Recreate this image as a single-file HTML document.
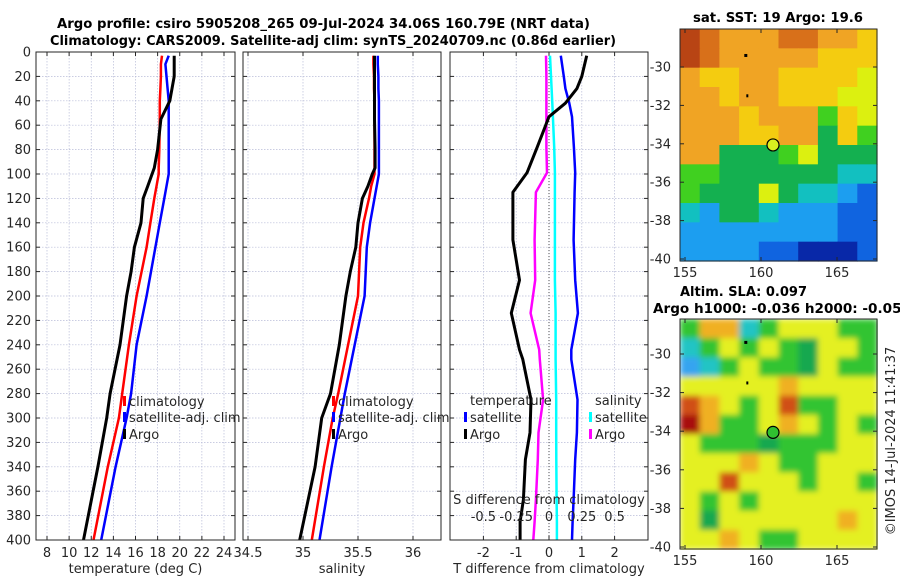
<!DOCTYPE html>
<html><head><meta charset="utf-8"><style>
html,body{margin:0;padding:0;background:#fff;}
svg{display:block;font-family:"DejaVu Sans","Liberation Sans",sans-serif;}
</style></head><body>
<svg id="fig" width="900" height="580" viewBox="0 0 900 580" xmlns="http://www.w3.org/2000/svg">
<text x="57" y="28" font-size="13" font-weight="bold" textLength="533" lengthAdjust="spacingAndGlyphs">Argo profile: csiro 5905208_265 09-Jul-2024 34.06S 160.79E (NRT data)</text>
<text x="50" y="45" font-size="13" font-weight="bold" textLength="566" lengthAdjust="spacingAndGlyphs">Climatology: CARS2009. Satellite-adj clim: synTS_20240709.nc (0.86d earlier)</text>
<text x="693" y="22" font-size="13" font-weight="bold" textLength="170" lengthAdjust="spacingAndGlyphs">sat. SST: 19 Argo: 19.6</text>
<text x="680" y="296" font-size="13" font-weight="bold" textLength="127" lengthAdjust="spacingAndGlyphs">Altim. SLA: 0.097</text>
<text x="653" y="313" font-size="13" font-weight="bold" textLength="258" lengthAdjust="spacingAndGlyphs">Argo h1000: -0.036 h2000: -0.054</text>
<text transform="translate(895,441) rotate(-90)" text-anchor="middle" font-size="13" fill="#262626">©IMOS 14-Jul-2024 11:41:37</text>
<g id="layer"></g>
</svg>
<script>
// depth levels (m)
const depthT = [3,10,20,30,40,55,80,95,100,110,120,140,160,180,200,240,280,300,340,400];
const tempClim = [18.4,18.3,18.3,18.25,18.2,18.2,18.15,18.1,18.1,17.9,17.7,17.35,17.0,16.55,16.1,15.4,14.8,14.5,13.5,12.2];
const tempSat  = [19.0,18.7,18.8,18.9,19.0,19.0,19.0,19.0,19.0,18.8,18.6,18.2,17.8,17.4,17.0,16.1,15.6,15.2,14.2,12.9];
const tempArgo = [19.5,19.5,19.5,19.3,19.1,18.3,18.0,17.7,17.5,17.1,16.7,16.5,15.9,15.6,15.2,14.6,13.7,13.4,12.6,11.3];
const salClim = [35.64,35.64,35.645,35.645,35.65,35.65,35.65,35.65,35.65,35.62,35.6,35.55,35.52,35.51,35.5,35.41,35.32,35.27,35.19,35.08];
const salSat  = [35.68,35.68,35.685,35.685,35.69,35.69,35.69,35.69,35.69,35.67,35.65,35.61,35.58,35.57,35.56,35.47,35.38,35.34,35.26,35.15];
const salArgo = [35.65,35.65,35.65,35.65,35.65,35.65,35.655,35.655,35.63,35.59,35.54,35.5,35.48,35.43,35.39,35.33,35.25,35.17,35.11,34.97];
const depthD = [3,20,30,42,53,78,99,115,154,187,214,244,252,285,312,334,367,385,400];
const dTArgo = [1.15,1.0,0.85,0.5,0.0,-0.36,-0.67,-1.1,-1.1,-0.9,-1.15,-0.9,-0.8,-0.55,-0.58,-0.72,-0.78,-0.88,-0.88];
const dTSat  = [0.36,0.45,0.5,0.62,0.7,0.76,0.8,0.78,0.75,0.8,0.88,0.68,0.68,0.87,0.85,0.8,0.75,0.72,0.7];
const dSArgo = [-0.023,-0.02,-0.02,-0.02,-0.02,-0.02,-0.015,-0.1,-0.11,-0.105,-0.14,-0.075,-0.07,-0.045,-0.08,-0.085,-0.1,-0.11,-0.12];
const dSSat  = [0.008,0.015,0.02,0.025,0.03,0.04,0.045,0.045,0.045,0.045,0.05,0.05,0.05,0.055,0.055,0.056,0.058,0.06,0.06];
const yTicks = [0,20,40,60,80,100,120,140,160,180,200,220,240,260,280,300,320,340,360,380,400];
const tTicks = [8,10,12,14,16,18,20,22,24];
const sTicks = [34.5,35,35.5,36];
const dTicks = [-2,-1,0,1,2];
const dsTicks = [-0.5,-0.25,0,0.25,0.5];
const dsLabels = ['-0.5','-0.25','0','0.25','0.5'];
const sstRows = ["RDOOODDOOY","RDOOOOOYYY","OYYOOYYYYL","OOYOOYYYLL","OOOYOOOGYL","OOOYYOOgYG","OOgggGLggg","GGggggggCC","GgggLgCCBb","CBggCBBBbb","BBBBBBBBbb","BBBBbbNNNb"];
const slaRows = ["GOOCGYYYGG","CGYGYGgYYG","BCGYGGgYGG","YYYYYOYYYY","DOYGYDGGYY","ROGGYOYGYG","YGGGgGGGYY","YYYOYGGYYY","YYDYYYGYYG","YGYGYYYYYY","YgYYYYYYOY","YYOYGGYYYY"];
const argoLon = 160.79, argoLat = -34.06;
const mapXTicks = [155,160,165];
const mapYTicks = [-30,-32,-34,-36,-38,-40];

const NS='http://www.w3.org/2000/svg';
const L=document.getElementById('layer');
function mk(t,a,p){const e=document.createElementNS(NS,t);for(const k in a)e.setAttribute(k,a[k]);(p||L).appendChild(e);return e;}
const Y0=52,Y1=540;
const yS=d=>Y0+(d)*(Y1-Y0)/400;
const panels=[
 {name:'temperature-panel',x0:36,x1:235,sc:v=>47+(v-8)*11.0625,ticks:tTicks,labels:tTicks.map(String),xlabel:'temperature (deg C)'},
 {name:'salinity-panel',x0:243,x1:441,sc:v=>303+(v-35)*110,ticks:sTicks,labels:['34.5','35','35.5','36'],xlabel:'salinity'},
 {name:'difference-panel',x0:450,x1:648,sc:v=>549+v*32.8,ticks:dTicks,labels:dTicks.map(String),xlabel:'T difference from climatology'}
];
panels.forEach((p,i)=>{
 const g=mk('g',{});
 
 
 yTicks.forEach(d=>{const y=yS(d);
  const ln=mk('line',{x1:p.x0,x2:p.x1,y1:y,y2:y,stroke:'#b8bcd8','stroke-width':0.7,'stroke-dasharray':'1.5,1.5'},g);
  
  mk('line',{x1:p.x0,x2:p.x0+4,y1:y,y2:y,stroke:'#262626'},g);
  mk('line',{x1:p.x1-4,x2:p.x1,y1:y,y2:y,stroke:'#262626'},g);
  if(i===0){const t=mk('text',{x:31,y:y+4.5,'text-anchor':'end','font-size':13,fill:'#262626'},g);t.textContent=d;
   }
 });
 p.ticks.forEach((v,k)=>{const x=p.sc(v);
  const ln=mk('line',{x1:x,x2:x,y1:Y0,y2:Y1,stroke:'#b8bcd8','stroke-width':0.7,'stroke-dasharray':'1.5,1.5'},g);
  
  mk('line',{x1:x,x2:x,y1:Y1-4,y2:Y1,stroke:'#262626'},g);
  mk('line',{x1:x,x2:x,y1:Y0,y2:Y0+4,stroke:'#262626'},g);
  const t=mk('text',{x:x,y:557,'text-anchor':'middle','font-size':13,fill:'#262626'},g);t.textContent=p.labels[k];
  
 });
 const xl=mk('text',{x:(p.x0+p.x1)/2,y:573,'text-anchor':'middle','font-size':13,fill:'#262626'},g);xl.textContent=p.xlabel;
 
 p.g=g;
});
function line(p,depths,vals,col,w,name){
 const pts=depths.map((d,k)=>p.sc(vals[k]).toFixed(1)+','+yS(d).toFixed(1)).join(' ');
 const e=mk('polyline',{points:pts,fill:'none',stroke:col,'stroke-width':w,'stroke-linejoin':'round'},p.g);
 
}
const P1=panels[0],P2=panels[1],P3=panels[2];
line(P1,depthT,tempClim,'#ff0000',2.5,'temp-climatology-line');
line(P1,depthT,tempSat,'#0000ff',2.5,'temp-satellite-line');
line(P1,depthT,tempArgo,'#000000',3,'temp-argo-line');
line(P2,depthT,salClim,'#ff0000',2.5,'sal-climatology-line');
line(P2,depthT,salSat,'#0000ff',2.5,'sal-satellite-line');
line(P2,depthT,salArgo,'#000000',3,'sal-argo-line');
const z=mk('line',{x1:P3.sc(0),x2:P3.sc(0),y1:Y0,y2:Y1,stroke:'#333','stroke-width':0.8,'stroke-dasharray':'1,2'},P3.g);

const P3s={g:P3.g,sc:v=>P3.sc(v*4)};
line(P3,depthD,dTSat,'#0000ff',2.5,'tdiff-satellite-line');
line(P3s,depthD,dSSat,'#00ffff',2.5,'sdiff-satellite-line');
line(P3s,depthD,dSArgo,'#ff00ff',2.5,'sdiff-argo-line');
line(P3,depthD,dTArgo,'#000000',3,'tdiff-argo-line');
const st=mk('text',{x:549,y:504,'text-anchor':'middle','font-size':13,fill:'#262626'});st.textContent='S difference from climatology';

dsTicks.forEach((v,k)=>{const t=mk('text',{x:P3s.sc(v),y:521,'text-anchor':'middle','font-size':13,fill:'#262626'});t.textContent=dsLabels[k];
 });
function leg(x,y,col,label,name){
 const g=mk('g',{});
 mk('rect',{x:x-6,y:y-10,width:3,height:10,fill:col},g);
 const t=mk('text',{x:x,y:y,'font-size':13,fill:'#262626'},g);t.textContent=label;
}
leg(129,406,'#ff0000','climatology','legend-climatology');
leg(129,422,'#0000ff','satellite-adj. clim','legend-satellite-adj');
leg(129,439,'#000000','Argo','legend-argo');
leg(338,406,'#ff0000','climatology','legend-sal-climatology');
leg(338,422,'#0000ff','satellite-adj. clim','legend-sal-satellite-adj');
leg(338,439,'#000000','Argo','legend-sal-argo');
let t=mk('text',{x:470,y:405,'font-size':13,fill:'#262626'});t.textContent='temperature';

leg(470,422,'#0000ff','satellite','legend-t-satellite');
leg(470,439,'#000000','Argo','legend-t-argo');
t=mk('text',{x:595,y:405,'font-size':13,fill:'#262626'});t.textContent='salinity';

leg(595,422,'#00ffff','satellite','legend-s-satellite');
leg(595,439,'#ff00ff','Argo','legend-s-argo');
panels.forEach(p=>{const r=mk('rect',{x:p.x0,y:Y0,width:p.x1-p.x0,height:Y1-Y0,fill:'none',stroke:'#262626','stroke-width':1},p.g);
 });

const sstCol={R:'#b84414',D:'#d8701a',O:'#f0a424',Y:'#f4cc10',L:'#dcf010',G:'#40d020',g:'#14b050',C:'#12c0c0',B:'#1c9ef0',b:'#1064e0',N:'#0828a8'};
const slaCol={Y:'#e4f024',G:'#30c430',g:'#14a850',O:'#f0b024',D:'#d05014',R:'#a81010',C:'#20c4c4',B:'#34a4f0'};
function map(name,x0,y0,x1,y1,rows,cols,blur,latTop){
 const g=mk('g',{});
 const nr=rows.length,nc=rows[0].length,cw=(x1-x0)/nc,ch=(y1-y0)/nr;
 const inner=mk('g',blur?{filter:'url(#bl)'}:{},g);
 rows.forEach((r,i)=>{for(let j=0;j<nc;j++){mk('rect',{x:x0+j*cw,y:y0+i*ch,width:cw+0.6,height:ch+0.6,fill:cols[r[j]]},inner);}});
 const lonS=v=>685+(v-155)*15.2;
 const latS=v=>latTop+(-30-v)*((y1-latTop-2)/10);
 mapXTicks.forEach(v=>{const x=lonS(v);
  mk('line',{x1:x,x2:x,y1:y1-4,y2:y1,stroke:'#262626'},g);mk('line',{x1:x,x2:x,y1:y0,y2:y0+4,stroke:'#262626'},g);
  const tt=mk('text',{x:x,y:y1+16,'text-anchor':'middle','font-size':13,fill:'#262626'},g);tt.textContent=v;
  });
 mapYTicks.forEach(v=>{const y=latS(v);
  mk('line',{x1:x0,x2:x0+4,y1:y,y2:y,stroke:'#262626'},g);mk('line',{x1:x1-4,x2:x1,y1:y,y2:y,stroke:'#262626'},g);
  const tt=mk('text',{x:671,y:y+4.5,'text-anchor':'end','font-size':13,fill:'#262626'},g);tt.textContent=v;
  });
 mk('rect',{x:lonS(159)-1.5,y:latS(-29.4)-1.5,width:3,height:3,fill:'#000'},g);
 mk('rect',{x:lonS(159.1)-1,y:latS(-31.5)-1.5,width:2,height:3,fill:'#000'},g);
 const c=mk('circle',{cx:lonS(argoLon),cy:latS(argoLat),r:6,fill:name==='sst-map'?'#d8f020':'#30c030',stroke:'#000','stroke-width':1.2},g);
 
 mk('rect',{x:x0,y:y0,width:x1-x0,height:y1-y0,fill:'none',stroke:'#262626'},g);
}
const defs=mk('defs',{});const f=mk('filter',{id:'bl',x:'0',y:'0',width:'1',height:'1'},defs);
mk('feGaussianBlur',{stdDeviation:3,edgeMode:'duplicate'},f);
map('sst-map',680,29,877,261,sstRows,sstCol,false,67);
map('sla-map',680,319,877,549,slaRows,slaCol,true,354);
</script>
</body></html>
